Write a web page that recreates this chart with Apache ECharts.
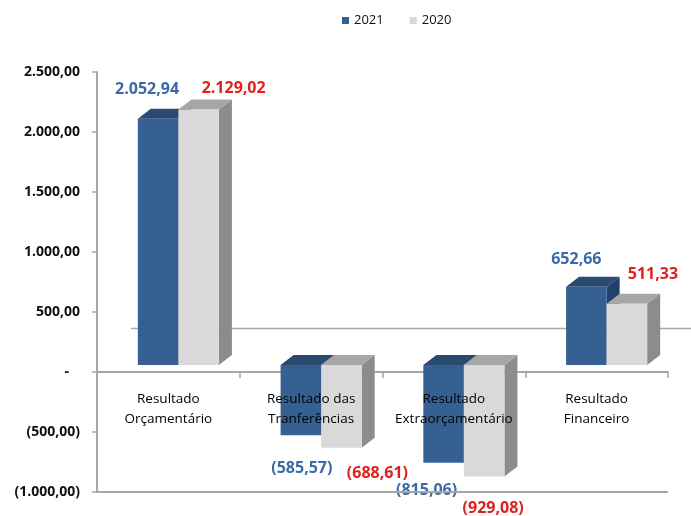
<!DOCTYPE html>
<html>
<head>
<meta charset="utf-8">
<script src="https://cdn.jsdelivr.net/npm/echarts@6/dist/echarts.min.js"></script>
<style>
  html, body { margin: 0; padding: 0; background: #fff; }
  #chart { width: 691px; height: 516px; }
</style>
</head>
<body>
<div id="chart"></div>
<script>
const categories = ["Resultado\nOrçamentário", "Resultado das\nTranferências", "Resultado\nExtraorçamentário", "Resultado\nFinanceiro"];
const seriesNames = ["2021", "2020"];
const values2021 = [2052.94, -585.57, -815.06, 652.66];
const values2020 = [2129.02, -688.61, -929.08, 511.33];
const yMin = -1000;
const yMax = 2500;
const yStep = 500;

// 3d look: front face sits a little up/right of the axis plane
const SHIFT_X = 10;
const SHIFT_Y = -7;
const DEPTH_X = 13;
const DEPTH_Y = -10;
const GRAY_LINE = "#a6a6a6";
const FONT = "'Open Sans', 'Noto Sans', sans-serif";

// hand placed label nudges, like the source sheet (dx from bar centre, dy from bar end)
const labelNudge = {
    "2021": [[-11, -29], [1, 33], [-17, 28], [-10, -27]],
    "2020": [[35, -21], [36, 26], [9, 32], [26, -29]]
};

function fmtNumber(v) {
    const parts = Math.abs(v).toFixed(2).split(".");
    const whole = parts[0].replace(/\B(?=(\d{3})+(?!\d))/g, ".");
    const txt = whole + "," + parts[1];
    return v < 0 ? "(" + txt + ")" : txt;
}

function axisLabel(v) {
    return v === 0 ? "-   " : fmtNumber(v);
}

function makeRenderer(name, left, colors, labelStyle) {
    return function (params, api) {
        const i = api.value(0);
        const v = api.value(1);
        const bw = api.size([1, 0])[0] * 0.284;
        const zero = api.coord([i, 0]);
        const end = api.coord([i, v]);
        const x0 = zero[0] + SHIFT_X - (left ? bw : 0);
        const yz = zero[1] + SHIFT_Y;
        const ye = end[1] + SHIFT_Y;
        const top = Math.min(yz, ye);
        const bot = Math.max(yz, ye);
        const nudge = labelNudge[name][params.dataIndex];

        return {
            type: "group",
            children: [
                {
                    type: "polygon",
                    shape: { points: [[x0 + bw, top], [x0 + bw + DEPTH_X, top + DEPTH_Y], [x0 + bw + DEPTH_X, bot + DEPTH_Y], [x0 + bw, bot]] },
                    style: { fill: colors.side }
                },
                {
                    type: "polygon",
                    shape: { points: [[x0, top], [x0 + bw, top], [x0 + bw + DEPTH_X, top + DEPTH_Y], [x0 + DEPTH_X, top + DEPTH_Y]] },
                    style: { fill: colors.top }
                },
                {
                    type: "rect",
                    shape: { x: x0, y: top, width: bw, height: bot - top },
                    style: { fill: colors.front }
                },
                {
                    type: "text",
                    x: x0 + bw / 2 + nudge[0],
                    y: ye + nudge[1],
                    z2: 10,
                    style: Object.assign({
                        text: fmtNumber(v),
                        align: "center",
                        verticalAlign: "middle",
                        fontFamily: FONT,
                        fontSize: 16,
                        fontWeight: "bold"
                    }, labelStyle)
                }
            ]
        };
    };
}

const blue = { front: "#376092", top: "#2a4a72", side: "#23406a" };
const gray = { front: "#d9d9d9", top: "#a6a6a6", side: "#8c8c8c" };

const option = {
    animation: false,
    backgroundColor: "#ffffff",
    textStyle: { fontFamily: FONT },
    legend: {
        data: seriesNames,
        left: 337,
        top: 9,
        icon: "rect",
        itemWidth: 7,
        itemHeight: 7,
        itemGap: 26,
        textStyle: { fontSize: 13, color: "#111", fontFamily: FONT }
    },
    grid: { left: 97, right: 23, top: 72, bottom: 24, containLabel: false },
    xAxis: [
        {
            type: "category",
            data: categories,
            axisLine: { onZero: true, lineStyle: { color: GRAY_LINE, width: 2 } },
            axisTick: { show: true, length: 6, alignWithLabel: false, lineStyle: { color: GRAY_LINE, width: 1.5 } },
            axisLabel: { show: false },
            splitLine: { show: false }
        },
        {
            // labels only, lifted to the zero line after layout so they sit above the bars
            type: "category",
            data: categories,
            position: "bottom",
            z: 10,
            axisLine: { show: false, onZero: false },
            axisTick: { show: false },
            axisLabel: {
                interval: 0,
                margin: 10,
                fontSize: 13.5,
                lineHeight: 20,
                color: "#000",
                fontFamily: FONT
            },
            splitLine: { show: false }
        }
    ],
    yAxis: {
        type: "value",
        min: yMin,
        max: yMax,
        interval: yStep,
        axisLine: { show: true, lineStyle: { color: GRAY_LINE, width: 2 } },
        axisTick: { show: true, length: 5, lineStyle: { color: GRAY_LINE, width: 1.5 } },
        splitLine: { show: false },
        axisLabel: {
            margin: 17,
            fontSize: 14,
            fontWeight: "bold",
            color: "#111",
            fontFamily: FONT,
            formatter: axisLabel
        }
    },
    series: [
        {
            name: seriesNames[0],
            type: "custom",
            xAxisIndex: 0,
            itemStyle: { color: blue.front },
            renderItem: makeRenderer("2021", true, blue, { fill: "#3a6aa8" }),
            data: values2021.map((v, i) => [i, v]),
            markLine: {
                silent: true,
                symbol: ["none", "none"],
                label: { show: false },
                lineStyle: { color: GRAY_LINE, width: 2, type: "solid" },
                data: [{ yAxis: yMin }]
            }
        },
        {
            name: seriesNames[1],
            type: "custom",
            xAxisIndex: 0,
            itemStyle: { color: gray.front },
            renderItem: makeRenderer("2020", false, gray, { fill: "#e0201b" }),
            data: values2020.map((v, i) => [i, v])
        }
    ]
};

const chart = echarts.init(document.getElementById("chart"), null, { renderer: "canvas" });
chart.setOption(option);

// lift the label axis up to the zero line and draw the back floor edge
const zeroY = chart.convertToPixel({ yAxisIndex: 0 }, 0);
const bottomY = chart.convertToPixel({ yAxisIndex: 0 }, yMin);
const c0 = chart.convertToPixel({ xAxisIndex: 0 }, 0);
const c1 = chart.convertToPixel({ xAxisIndex: 0 }, 1);
const leftX = c0 - (c1 - c0) / 2;

chart.setOption({
    xAxis: [{}, { offset: zeroY - bottomY }],
    graphic: [
        {
            type: "line",
            z: 0,
            silent: true,
            shape: { x1: leftX + 34, y1: zeroY - 25, x2: 691, y2: zeroY - 25 },
            style: { stroke: GRAY_LINE, lineWidth: 1.5 }
        }
    ]
});
</script>
</body>
</html>
